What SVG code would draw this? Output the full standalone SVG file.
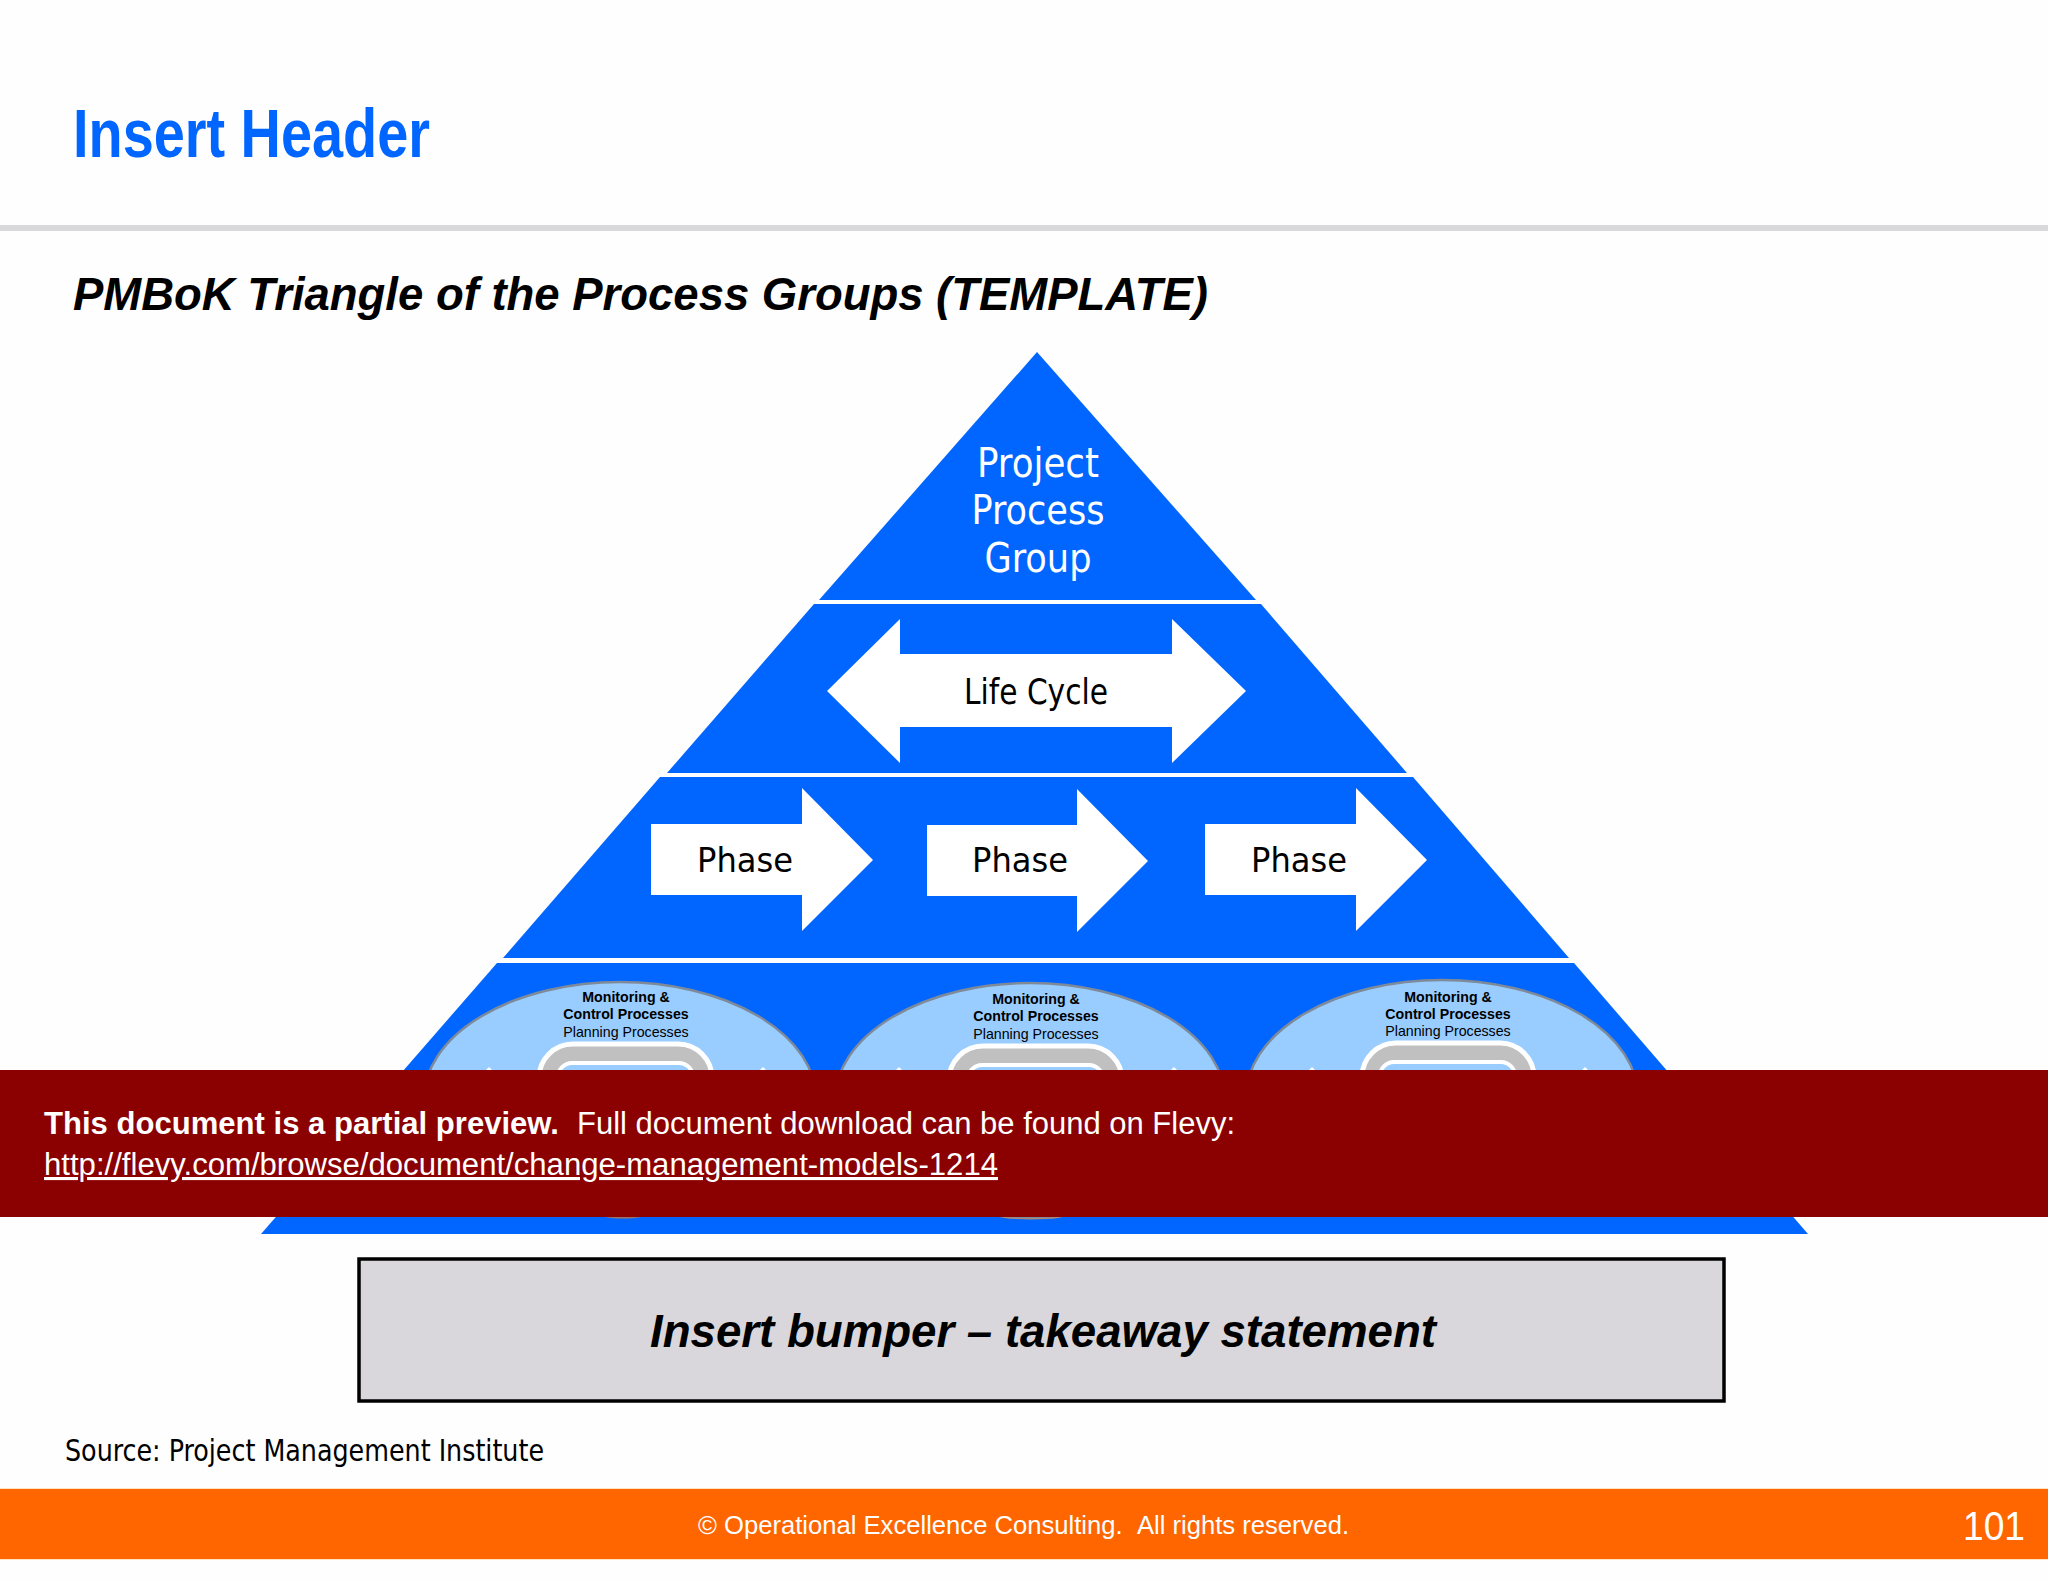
<svg xmlns="http://www.w3.org/2000/svg" width="2048" height="1582" viewBox="0 0 2048 1582">
<defs>
<style>
.tier{fill:#0066ff}
.arrow{fill:#fff}
.a{font-family:"Liberation Sans",Arial,sans-serif}
.t{font-family:"DejaVu Sans Condensed","DejaVu Sans",sans-serif}
.w{fill:#fff}
.k{fill:#000}
.b{font-weight:bold}
.i{font-style:italic}
.m{text-anchor:middle}
.ell{fill:#99ccff;stroke:#7f8a99;stroke-width:2.5}
.out{fill:#c0c0c0;stroke:#fff;stroke-width:5}
.inn{fill:#99ccff;stroke:#fff;stroke-width:4}
.s{font-size:14.2px}
</style>
</defs>
<rect width="2048" height="1582" fill="#fefefe"/>
<g id="header">
<text class="a b" x="73" y="157" font-size="68" fill="#0066ff" textLength="357" lengthAdjust="spacingAndGlyphs">Insert Header</text>
<rect x="0" y="225" width="2048" height="6" fill="#d9d9dc"/>
<text class="a b i k" x="73" y="310" font-size="47" textLength="1135" lengthAdjust="spacingAndGlyphs">PMBoK Triangle of the Process Groups (TEMPLATE)</text>
</g>
<g id="tier-process-group">
<polygon class="tier" points="1037,352 1256,600 819,600"/>
<text class="t w m" font-size="41" x="1038" y="477" textLength="122" lengthAdjust="spacingAndGlyphs">Project</text>
<text class="t w m" font-size="41" x="1038" y="524" textLength="133" lengthAdjust="spacingAndGlyphs">Process</text>
<text class="t w m" font-size="41" x="1038" y="572" textLength="107" lengthAdjust="spacingAndGlyphs">Group</text>
</g>
<g id="tier-life-cycle">
<polygon class="tier" points="814,604 1261,604 1407,773 667,773"/>
<polygon class="arrow" points="827,691 900,619 900,654 1172,654 1172,619 1246,691 1172,763 1172,727 900,727 900,763"/>
<text class="t k m" font-size="36" x="1036" y="704" textLength="144" lengthAdjust="spacingAndGlyphs">Life Cycle</text>
</g>
<g id="tier-phases">
<polygon class="tier" points="660,777 1413,777 1569,958 503,958"/>
<g id="phase-1">
<polygon class="arrow" points="651,824 802,824 802,788 873,860 802,931 802,895 651,895"/>
<text class="t k m" font-size="34" x="745" y="872" textLength="96" lengthAdjust="spacingAndGlyphs">Phase</text>
</g>
<g id="phase-2">
<polygon class="arrow" points="927,825 1077,825 1077,789 1148,861 1077,932 1077,896 927,896"/>
<text class="t k m" font-size="34" x="1020" y="872" textLength="96" lengthAdjust="spacingAndGlyphs">Phase</text>
</g>
<g id="phase-3">
<polygon class="arrow" points="1205,824 1356,824 1356,788 1427,860 1356,931 1356,895 1205,895"/>
<text class="t k m" font-size="34" x="1299" y="872" textLength="96" lengthAdjust="spacingAndGlyphs">Phase</text>
</g>
</g>
<g id="tier-processes">
<polygon class="tier" points="497,963 1574,963 1808,1234 261,1234"/>
<ellipse cx="623" cy="1214" rx="24" ry="4.5" fill="#a5705a"/>
<ellipse cx="1031" cy="1214" rx="38" ry="5.5" fill="#b08a70"/>
<g id="process-1">
<ellipse class="ell" cx="620" cy="1099" rx="196" ry="117"/>
<polygon class="arrow" points="484,1072 489,1067 494,1072"/>
<polygon class="arrow" points="758,1072 763,1067 768,1072"/>
<rect class="out" x="539" y="1044" width="173" height="120" rx="34"/>
<rect class="inn" x="558" y="1063" width="135" height="90" rx="14"/>
<text class="a b k m s" x="626" y="1002">Monitoring &amp;</text>
<text class="a b k m s" x="626" y="1019">Control Processes</text>
<text class="a k m s" x="626" y="1037">Planning Processes</text>
</g>
<g id="process-2">
<ellipse class="ell" cx="1030" cy="1100" rx="195" ry="117"/>
<polygon class="arrow" points="894,1072 899,1067 904,1072"/>
<polygon class="arrow" points="1169,1072 1174,1067 1179,1072"/>
<rect class="out" x="949" y="1046" width="173" height="120" rx="34"/>
<rect class="inn" x="968" y="1065" width="135" height="90" rx="14"/>
<text class="a b k m s" x="1036" y="1004">Monitoring &amp;</text>
<text class="a b k m s" x="1036" y="1021">Control Processes</text>
<text class="a k m s" x="1036" y="1039">Planning Processes</text>
</g>
<g id="process-3">
<ellipse class="ell" cx="1442" cy="1097" rx="196" ry="117"/>
<polygon class="arrow" points="1307,1072 1312,1067 1317,1072"/>
<polygon class="arrow" points="1580,1072 1585,1067 1590,1072"/>
<rect class="out" x="1362" y="1043" width="172" height="120" rx="34"/>
<rect class="inn" x="1380" y="1062" width="135" height="90" rx="14"/>
<text class="a b k m s" x="1448" y="1002">Monitoring &amp;</text>
<text class="a b k m s" x="1448" y="1019">Control Processes</text>
<text class="a k m s" x="1448" y="1036">Planning Processes</text>
</g>
</g>
<g id="connectors"></g>
<g id="preview-banner">
<rect x="0" y="1070" width="2048" height="147" fill="#8b0000"/>
<text class="a b w" x="44" y="1134" font-size="31" textLength="515" lengthAdjust="spacingAndGlyphs">This document is a partial preview.</text>
<text class="a w" x="577" y="1134" font-size="31" textLength="658" lengthAdjust="spacingAndGlyphs">Full document download can be found on Flevy:</text>
<text class="a w" x="44" y="1175" font-size="31" text-decoration="underline" textLength="954" lengthAdjust="spacingAndGlyphs">http://flevy.com/browse/document/change-management-models-1214</text>
</g>
<g id="bumper">
<rect x="359" y="1259" width="1365" height="142" fill="#d9d7db" stroke="#000" stroke-width="3.5"/>
<text class="a b i k" x="650" y="1347" font-size="46" textLength="786" lengthAdjust="spacingAndGlyphs">Insert bumper – takeaway statement</text>
</g>
<text id="source" class="t k" x="65" y="1461" font-size="30" textLength="479" lengthAdjust="spacingAndGlyphs">Source: Project Management Institute</text>
<g id="footer">
<rect x="0" y="1489" width="2048" height="70" fill="#ff6600"/>
<rect x="0" y="1488" width="2048" height="1" fill="#ffe3c0"/>
<rect x="0" y="1559" width="2048" height="1" fill="#ffe3c0"/>
<text class="a w" x="698" y="1534" font-size="26" textLength="651" lengthAdjust="spacingAndGlyphs">© Operational Excellence Consulting. &#160;All rights reserved.</text>
<text class="a w" x="1963" y="1540" font-size="40" textLength="62" lengthAdjust="spacingAndGlyphs">101</text>
</g>
</svg>
